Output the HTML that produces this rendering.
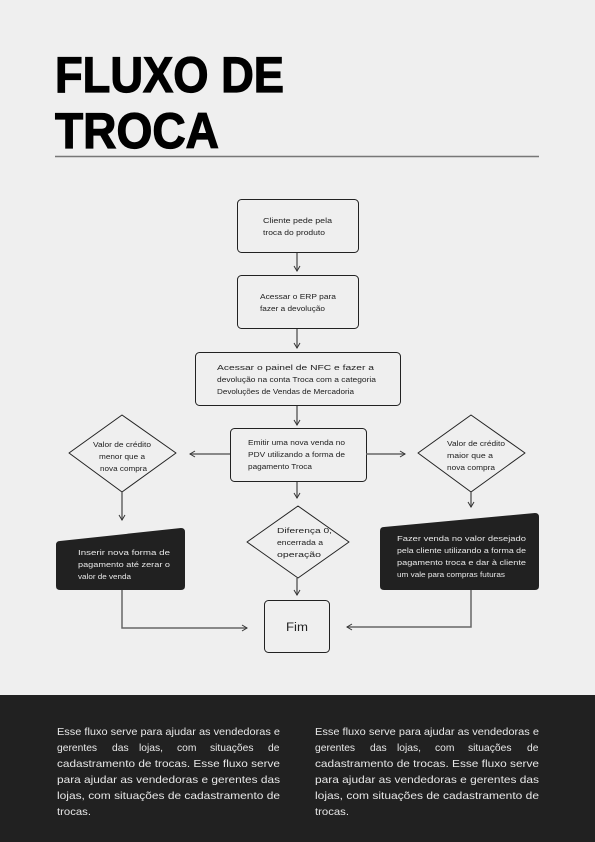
<!DOCTYPE html>
<html><head><meta charset="utf-8"><style>
html,body{margin:0;padding:0;background:#efefef;}
body{width:595px;height:842px;position:relative;overflow:hidden;font-family:"Liberation Sans",sans-serif;}
svg{position:absolute;left:0;top:0;}
</style></head><body>
<svg width="595" height="842" viewBox="0 0 595 842" font-family="Liberation Sans, sans-serif">
<defs><marker id="a" markerWidth="8" markerHeight="8" refX="6" refY="4" orient="auto" markerUnits="userSpaceOnUse"><path d="M1,1 L6,4 L1,7" fill="none" stroke="#333" stroke-width="1"/></marker></defs>
<text x="55" y="92" font-size="50" font-weight="bold" fill="#000" stroke="#000" stroke-width="1.2" textLength="229" lengthAdjust="spacingAndGlyphs">FLUXO DE</text>
<text x="55" y="148" font-size="50" font-weight="bold" fill="#000" stroke="#000" stroke-width="1.2" textLength="164" lengthAdjust="spacingAndGlyphs">TROCA</text>
<line x1="55" y1="156.5" x2="539" y2="156.5" stroke="#777" stroke-width="1.5"/>
<g fill="none" stroke="#222" stroke-width="1">
<rect x="237.5" y="199.5" width="121" height="53" rx="4"/>
<rect x="237.5" y="275.5" width="121" height="53" rx="4"/>
<rect x="195.5" y="352.5" width="205" height="53" rx="4"/>
<rect x="230.5" y="428.5" width="136" height="53" rx="4"/>
<rect x="264.5" y="600.5" width="65" height="52" rx="4"/>
<path d="M122,415 L176,453 L122,492 L69,453 Z" stroke-linejoin="round"/>
<path d="M471,415 L525,453 L471,492 L418,453 Z" stroke-linejoin="round"/>
<path d="M298,506 L349,542 L298,578 L247,542 Z" stroke-linejoin="round"/>
</g>
<g stroke="#666" stroke-width="1.5" fill="none" marker-end="url(#a)">
<line x1="297" y1="253" x2="297" y2="271"/>
<line x1="297" y1="329" x2="297" y2="348"/>
<line x1="297" y1="406" x2="297" y2="425"/>
<line x1="230" y1="454" x2="190" y2="454"/>
<line x1="366" y1="454" x2="405" y2="454"/>
<line x1="122" y1="492" x2="122" y2="520"/>
<line x1="471" y1="492" x2="471" y2="507"/>
<line x1="297" y1="482" x2="297" y2="498"/>
<line x1="297" y1="578" x2="297" y2="595"/>
<polyline points="122,590 122,628 247,628"/>
<polyline points="471,590 471,627 347,627"/>
</g>
<path d="M60,541 L181,528 Q185,528 185,532 L185,586 Q185,590 181,590 L60,590 Q56,590 56,586 L56,545 Q56,541 60,541 Z" fill="#212121"/>
<path d="M384,527 L535,513 Q539,513 539,517 L539,586 Q539,590 535,590 L384,590 Q380,590 380,586 L380,531 Q380,527 384,527 Z" fill="#212121"/>
<g font-size="7.6" fill="#222">
<text x="263" y="223" textLength="69" lengthAdjust="spacingAndGlyphs">Cliente  pede  pela</text>
<text x="263" y="235" textLength="62" lengthAdjust="spacingAndGlyphs">troca do produto</text>
<text x="260" y="299" textLength="76" lengthAdjust="spacingAndGlyphs">Acessar  o  ERP  para</text>
<text x="260" y="311" textLength="65" lengthAdjust="spacingAndGlyphs">fazer a devolução</text>
<text x="217" y="370" textLength="157" lengthAdjust="spacingAndGlyphs">Acessar   o   painel   de   NFC   e   fazer   a</text>
<text x="217" y="382" textLength="159" lengthAdjust="spacingAndGlyphs">devolução na conta Troca com a categoria</text>
<text x="217" y="394" textLength="137" lengthAdjust="spacingAndGlyphs">Devoluções de Vendas de Mercadoria</text>
<text x="248" y="445" textLength="97" lengthAdjust="spacingAndGlyphs">Emitir uma nova venda no</text>
<text x="248" y="457" textLength="97" lengthAdjust="spacingAndGlyphs">PDV utilizando a forma de</text>
<text x="248" y="469" textLength="64" lengthAdjust="spacingAndGlyphs">pagamento Troca</text>
<text x="93" y="447" textLength="58" lengthAdjust="spacingAndGlyphs">Valor de crédito</text>
<text x="99" y="459" textLength="46" lengthAdjust="spacingAndGlyphs">menor que a</text>
<text x="100" y="471" textLength="47" lengthAdjust="spacingAndGlyphs">nova compra</text>
<text x="447" y="446" textLength="58" lengthAdjust="spacingAndGlyphs">Valor de crédito</text>
<text x="447" y="458" textLength="46" lengthAdjust="spacingAndGlyphs">maior que a</text>
<text x="447" y="470" textLength="48" lengthAdjust="spacingAndGlyphs">nova compra</text>
<text x="277" y="533" textLength="55" lengthAdjust="spacingAndGlyphs">Diferença 0,</text>
<text x="277" y="545" textLength="46" lengthAdjust="spacingAndGlyphs">encerrada a</text>
<text x="277" y="557" textLength="44" lengthAdjust="spacingAndGlyphs">operação</text>
<text x="286" y="631" font-size="11.5" textLength="22" lengthAdjust="spacingAndGlyphs">Fim</text>
</g>
<g font-size="7.6" fill="#e8e8e8">
<text x="78" y="555" textLength="92" lengthAdjust="spacingAndGlyphs">Inserir   nova   forma   de</text>
<text x="78" y="567" textLength="92" lengthAdjust="spacingAndGlyphs">pagamento  até  zerar  o</text>
<text x="78" y="579" textLength="53" lengthAdjust="spacingAndGlyphs">valor de venda</text>
<text x="397" y="541" textLength="129" lengthAdjust="spacingAndGlyphs">Fazer   venda   no   valor   desejado</text>
<text x="397" y="553" textLength="129" lengthAdjust="spacingAndGlyphs">pela cliente utilizando a forma de</text>
<text x="397" y="565" textLength="129" lengthAdjust="spacingAndGlyphs">pagamento troca e dar à cliente</text>
<text x="397" y="577" textLength="108" lengthAdjust="spacingAndGlyphs">um vale para compras futuras</text>
</g>
<rect x="0" y="695" width="595" height="147" fill="#212121"/>
<g font-size="10.3" fill="#e8e8e8">
<text x="57" y="735" textLength="223" lengthAdjust="spacingAndGlyphs">Esse fluxo serve para ajudar as vendedoras e</text>
<text y="751"><tspan x="57">gerentes</tspan><tspan x="112">das</tspan><tspan x="139">lojas,</tspan><tspan x="177">com</tspan><tspan x="210">situações</tspan><tspan x="268">de</tspan></text>
<text x="57" y="767" textLength="223" lengthAdjust="spacingAndGlyphs">cadastramento de trocas. Esse fluxo serve</text>
<text x="57" y="783" textLength="223" lengthAdjust="spacingAndGlyphs">para ajudar as vendedoras e gerentes das</text>
<text x="57" y="799" textLength="223" lengthAdjust="spacingAndGlyphs">lojas, com situações de cadastramento de</text>
<text x="57" y="815" textLength="34" lengthAdjust="spacingAndGlyphs">trocas.</text>
<text x="315" y="735" textLength="224" lengthAdjust="spacingAndGlyphs">Esse fluxo serve para ajudar as vendedoras e</text>
<text y="751"><tspan x="315">gerentes</tspan><tspan x="370">das</tspan><tspan x="397">lojas,</tspan><tspan x="435">com</tspan><tspan x="468">situações</tspan><tspan x="527">de</tspan></text>
<text x="315" y="767" textLength="224" lengthAdjust="spacingAndGlyphs">cadastramento de trocas. Esse fluxo serve</text>
<text x="315" y="783" textLength="224" lengthAdjust="spacingAndGlyphs">para ajudar as vendedoras e gerentes das</text>
<text x="315" y="799" textLength="224" lengthAdjust="spacingAndGlyphs">lojas, com situações de cadastramento de</text>
<text x="315" y="815" textLength="34" lengthAdjust="spacingAndGlyphs">trocas.</text>
</g>
</svg>
</body></html>
